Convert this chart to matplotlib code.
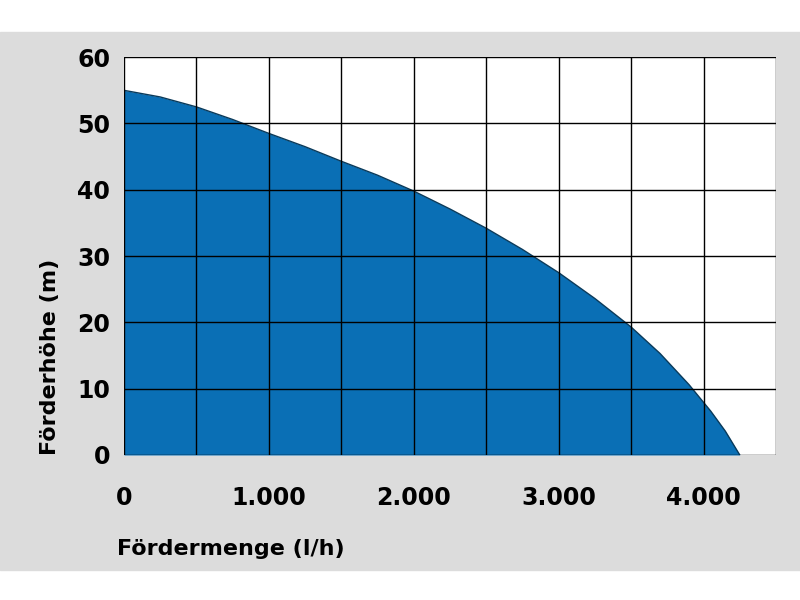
import numpy as np
import matplotlib.pyplot as plt
from matplotlib.patches import Rectangle

flow = [0, 250, 500, 750, 1000, 1250, 1500, 1750, 2000, 2250, 2500, 2750, 3000,
        3250, 3500, 3700, 3900, 4050, 4150, 4250]
head = [55, 54, 52.5, 50.6, 48.5, 46.5, 44.3, 42.2, 39.8, 37.1, 34.2, 31.0, 27.5,
        23.6, 19.3, 15.3, 10.6, 6.6, 3.6, 0]
xticks = [0, 1000, 2000, 3000, 4000]
xlabels = ['0', '1.000', '2.000', '3.000', '4.000']

fig = plt.figure(figsize=(8, 6), dpi=100)
bg = Rectangle((0, 0.05), 1, 0.897, transform=fig.transFigure,
               color='#dcdcdc', zorder=-10)
fig.add_artist(bg)
ax = fig.add_axes([0.155, 0.2417, 0.815, 0.663])
ax.set_facecolor('white')

ax.fill_between(flow, head, 0, color='#0a6fb5', zorder=1, linewidth=0)
ax.plot(flow, head, color='#0a3a5a', lw=1, zorder=2)

ax.set_xlim(0, 4500)
ax.set_ylim(0, 60)
ax.set_xticks(xticks)
ax.set_xticklabels(xlabels)
ax.set_xticks(np.arange(500, 4600, 1000), minor=True)
ax.set_yticks(np.arange(0, 61, 10))
ax.grid(True, which='both', color='black', lw=1.0, zorder=3)
ax.set_axisbelow(False)
ax.tick_params(which='both', length=0, labelsize=17)
ax.tick_params(axis='x', pad=22)
ax.tick_params(axis='y', pad=10)
for lab in ax.get_xticklabels() + ax.get_yticklabels():
    lab.set_fontweight('bold')
for s in ax.spines.values():
    s.set_visible(False)
ax.set_xlabel('Fördermenge (l/h)', fontsize=16, fontweight='bold')
ax.xaxis.set_label_coords(-0.01, -0.21)
ax.xaxis.label.set_horizontalalignment('left')
ax.set_ylabel('Förderhöhe (m)', fontsize=16, fontweight='bold', loc='bottom', labelpad=12)
fig.savefig('out.png')
